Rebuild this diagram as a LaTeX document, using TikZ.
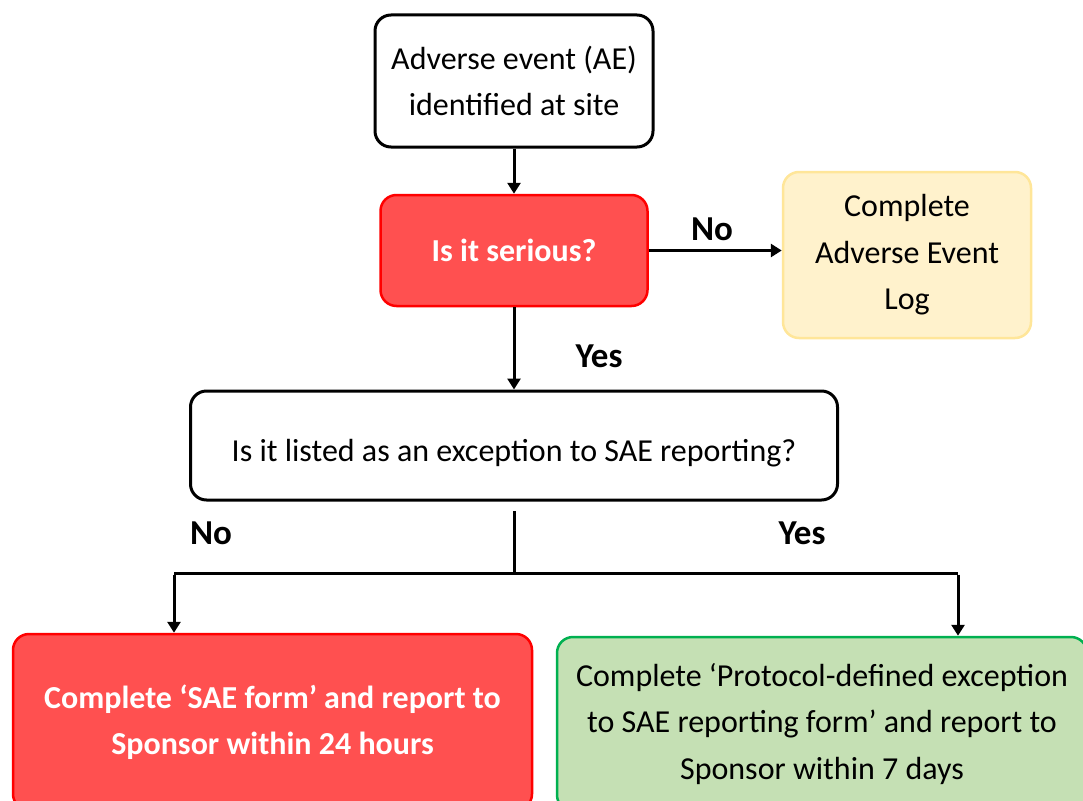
\documentclass[tikz,border=0pt]{standalone}
\usepackage{fontspec}
\setmainfont{Carlito}
\usetikzlibrary{arrows.meta}
\definecolor{redfill}{HTML}{FF5050}
\definecolor{redline}{HTML}{FF0000}
\definecolor{yelfill}{HTML}{FFF2CC}
\definecolor{yelline}{HTML}{FFE699}
\definecolor{grnfill}{HTML}{C5E0B4}
\definecolor{grnline}{HTML}{00B050}
\tikzset{
  box/.style={rectangle, rounded corners=16pt, align=center, inner sep=0pt,
    font=\fontsize{32}{46.5}\selectfont},
  whitebox/.style={box, draw=black, line width=3pt, fill=white},
  redbox/.style={box, draw=redline, line width=2.5pt, fill=redfill, text=white,
    font=\fontsize{32}{46.5}\selectfont\bfseries},
  yelbox/.style={box, draw=yelline, line width=2.5pt, fill=yelfill},
  grnbox/.style={box, draw=grnline, line width=2.5pt, fill=grnfill},
  conn/.style={line width=3pt, -{Triangle[length=11pt,width=13pt]}},
  plain/.style={line width=3pt},
  lbl/.style={font=\fontsize{35}{40}\selectfont\bfseries, inner sep=0pt}
}
\begin{document}
\begin{tikzpicture}[x=1pt,y=-1pt]
\useasboundingbox (0,0) rectangle (1083,800);
\clip (0,0) rectangle (1083,800);
\fill[white] (0,0) rectangle (1083,800);

\node[whitebox, minimum width=278pt, minimum height=132pt] (ae) at (514,81)
  {Adverse event (AE)\\identified at site};
\node[redbox, minimum width=267pt, minimum height=111pt] (ser) at (514,250.5)
  {Is it serious?};
\node[yelbox, minimum width=248pt, minimum height=166pt] (log) at (907,255)
  {Complete\\Adverse Event\\Log};
\node[whitebox, minimum width=647pt, minimum height=109pt, text height=32pt, text depth=0pt] (exc) at (514,445.5)
  {Is it listed as an exception to SAE reporting?};
\node[redbox, minimum width=519pt, minimum height=176pt] (sae) at (272.5,722)
  {Complete `SAE form' and report to\\Sponsor within 24 hours};
\node[grnbox, minimum width=530pt, minimum height=174pt] (prot) at (822,724)
  {Complete `Protocol-defined exception\\to SAE reporting form' and report to\\Sponsor within 7 days};

\coordinate (split) at (514,511);
\coordinate (junc) at (514,573);
\coordinate (lt) at (174,573);
\coordinate (rt) at (958,573);

\draw[conn] (ae.south) -- (ser.north);
\draw[conn] (ser.east) -- (ser.east -| log.west);
\draw[conn] (ser.south) -- (exc.north);
\draw[plain] (split) -- (junc);
\draw[plain] (lt) -- (rt);
\draw[conn] ([yshift=-1.5pt]lt) -- (lt |- sae.north);
\draw[conn] ([yshift=-1.5pt]rt) -- (rt |- prot.north);

\node[lbl] (lno) at (712,229) {No};
\node[lbl] (lyes) at (599,356) {Yes};
\node[lbl] (lno2) at (211,533) {No};
\node[lbl] (lyes2) at (802,533) {Yes};
\end{tikzpicture}
\end{document}
